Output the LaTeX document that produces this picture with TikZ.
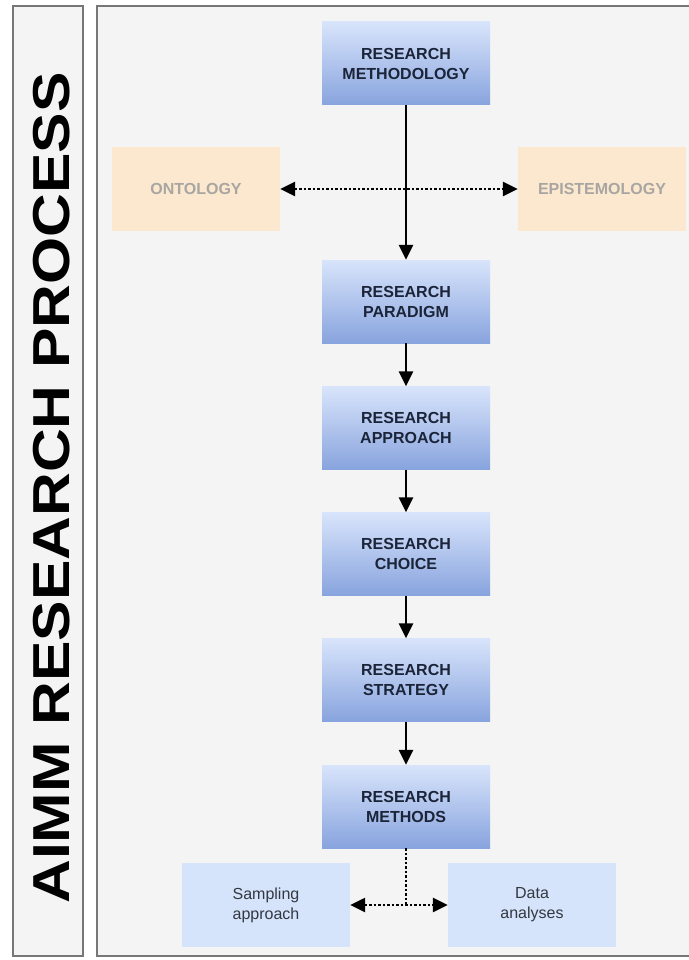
\documentclass[tikz,border=0pt]{standalone}
\usepackage{fontspec}
\setmainfont{Liberation Sans}
\usetikzlibrary{arrows.meta}

\definecolor{panelgray}{HTML}{F4F4F4}
\definecolor{framegray}{HTML}{777777}
\definecolor{boxtop}{HTML}{D8E4FB}
\definecolor{boxbottom}{HTML}{88A4DE}
\definecolor{boxtext}{HTML}{1B2438}
\definecolor{peach}{HTML}{FBE8CF}
\definecolor{peachtext}{HTML}{A9A6A2}
\definecolor{lightblue}{HTML}{D5E4FB}
\definecolor{subtext}{HTML}{333842}

\tikzset{
  stepbox/.style={rectangle,minimum width=168pt,minimum height=83pt,inner sep=0pt,
    top color=boxtop,bottom color=boxbottom,draw=none,text=boxtext,align=center,
    font=\fontsize{16}{20}\selectfont\bfseries},
  sidebox/.style={rectangle,minimum width=168pt,minimum height=84pt,inner sep=0pt,
    fill=peach,text=peachtext,align=center,font=\fontsize{16}{20}\selectfont\bfseries},
  subbox/.style={rectangle,minimum width=168pt,minimum height=84pt,inner sep=0pt,
    fill=lightblue,text=subtext,align=center,font=\fontsize{16}{20}\selectfont},
  solidarrow/.style={draw,line width=2.5pt,-{Triangle[length=15pt,width=14pt]}},
  dotline/.style={draw,line width=2.5pt,dash pattern=on 2.5pt off 2pt},
  dotarrow/.style={dotline,{Triangle[length=15pt,width=14pt]}-{Triangle[length=15pt,width=14pt]}}
}

\begin{document}
\begin{tikzpicture}[x=1pt,y=-1pt]

      \useasboundingbox (0,0) rectangle (688,960);

      % panels
      \draw[framegray,line width=2.5pt,fill=panelgray] (13,6) rectangle (83,956);
      \draw[framegray,line width=2.5pt,fill=panelgray] (97,6) rectangle (700,956);

      \node[rotate=90,anchor=base,font=\fontsize{52}{52}\selectfont\bfseries] (title) at (69,488)
        {\scalebox{1.165}[1]{AIMM RESEARCH PROCESS}};

      \begin{scope}[every node/.style={stepbox}]
        \node (meth)  at (406,63.5)  {RESEARCH\\METHODOLOGY};
        \node (para)  at (406,301.5) {RESEARCH\\PARADIGM};
        \node (appr)  at (406,428)   {RESEARCH\\APPROACH};
        \node (choi)  at (406,554)   {RESEARCH\\CHOICE};
        \node (strat) at (406,680)   {RESEARCH\\STRATEGY};
        \node (meths) at (406,806.5) {RESEARCH\\METHODS};
      \end{scope}

      \begin{scope}[every node/.style={sidebox}]
        \node (onto) at (196,189) {ONTOLOGY};
        \node (epis) at (602,189) {EPISTEMOLOGY};
      \end{scope}

      \begin{scope}[every node/.style={subbox}]
        \node (samp) at (266,905) {Sampling\\approach};
        \node (data) at (532,905) {Data\\analyses};
      \end{scope}

      \coordinate (split) at (meths.south |- samp.east);

      \begin{scope}[every edge/.style={dotarrow}]
        \path (onto) edge (epis);
        \path (samp) edge (data);
      \end{scope}
      \path[dotline] (meths.south) -- (split);

      \begin{scope}[every edge/.style={solidarrow}]
        \path (meth)  edge (para);
        \path (para)  edge (appr);
        \path (appr)  edge (choi);
        \path (choi)  edge (strat);
        \path (strat) edge (meths);
      \end{scope}

    \end{tikzpicture}
\end{document}
